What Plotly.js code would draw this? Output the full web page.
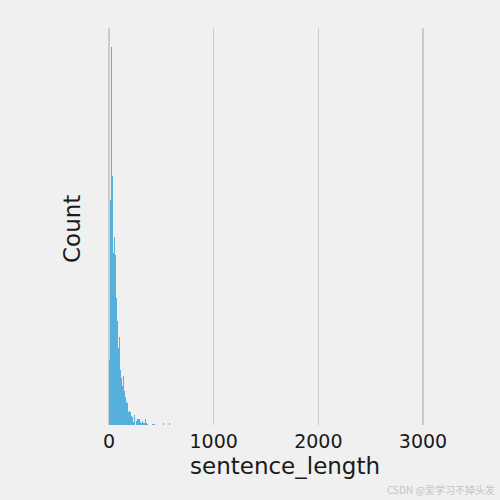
<!DOCTYPE html>
<html>
<head>
<meta charset="utf-8">
<script src="https://cdn.plot.ly/plotly-3.0.1.min.js"></script>
<style>html,body{margin:0;padding:0;background:#f0f0f0;}#chart{width:500px;height:500px;}</style>
</head>
<body>
<div id="chart"></div>
<script>
// Histogram bins of sentence_length (left edge of each bin) and counts
const binWidth = 9.55;
const binLeft = [0, 9.55, 19.1, 28.65, 38.2, 47.75, 57.3, 66.85, 76.4, 85.95,
  95.5, 105.05, 114.6, 124.15, 133.7, 143.25, 152.8, 162.35, 171.9, 181.45,
  191, 200.55, 210.1, 219.65, 229.2, 238.75, 257.85, 267.4, 276.95, 286.5,
  296.05, 305.6, 315.15, 324.7, 334.25, 343.8, 353.35, 362.9, 410.65, 420.2,
  429.75, 515.7, 573];
const counts = [650, 2250, 3780, 2490, 1720, 1880, 1700, 1270, 1040, 770,
  880, 550, 470, 390, 490, 340, 280, 230, 220, 130,
  140, 130, 90, 80, 30, 100, 40, 60, 60, 60,
  30, 20, 40, 20, 20, 60, 20, 10, 10, 10,
  10, 20, 20];
const xTicks = [0, 1000, 2000, 3000];
const xTickText = ['0', '1000', '2000', '3000'];
const xLabel = 'sentence_length';
const yLabel = 'Count';
const watermark = 'CSDN @爱学习不掉头发';

const centers = binLeft.map(v => v + binWidth / 2);
const maxCount = Math.max(...counts);

const trace = {
  type: 'bar',
  x: centers,
  y: counts,
  width: binWidth,
  marker: {color: '#56b0de', line: {width: 0}},
  hoverinfo: 'skip'
};

const layout = {
  width: 500, height: 500,
  paper_bgcolor: '#f0f0f0', plot_bgcolor: '#f0f0f0',
  margin: {l: 91, r: 22, t: 28, b: 75},
  showlegend: false,
  bargap: 0,
  font: {family: 'DejaVu Sans', color: '#1a1a1a'},
  xaxis: {
    range: [-172, 3525.5],
    tickvals: xTicks, ticktext: xTickText,
    showgrid: true, gridcolor: '#cbcbcb', gridwidth: 1.6,
    zeroline: false, showline: false, ticks: '',
    tickfont: {size: 19, family: 'DejaVu Sans', color: '#1a1a1a'},
    ticklabelstandoff: 3
  },
  yaxis: {
    range: [0, maxCount * 1.05],
    showticklabels: false, showgrid: false, zeroline: false, showline: false, ticks: ''
  },
  annotations: [
    {text: xLabel, xref: 'paper', yref: 'paper', x: (284.7 - 91) / 387, y: -(466 - 425) / 397,
     xanchor: 'center', yanchor: 'middle', showarrow: false,
     font: {size: 23, family: 'DejaVu Sans', color: '#1a1a1a'}},
    {text: yLabel, xref: 'paper', yref: 'paper', x: (72 - 91) / 387, y: (425 - 229) / 397,
     xanchor: 'center', yanchor: 'middle', textangle: -90, showarrow: false,
     font: {size: 23, family: 'DejaVu Sans', color: '#1a1a1a'}},
    {text: watermark, xref: 'paper', yref: 'paper', x: (497 - 91) / 387, y: -(489 - 425) / 397,
     xanchor: 'right', yanchor: 'middle', showarrow: false,
     font: {size: 10, family: 'Noto Sans CJK SC', color: '#c4c4c4'}}
  ]
};

Plotly.newPlot('chart', [trace], layout, {displayModeBar: false, staticPlot: true});
</script>
</body>
</html>
